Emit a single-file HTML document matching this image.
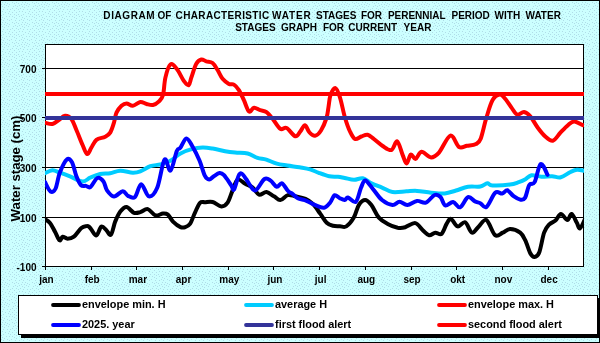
<!DOCTYPE html>
<html><head><meta charset="utf-8"><style>
html,body{margin:0;padding:0;background:#fff;}
body{width:600px;height:343px;overflow:hidden;}
svg{display:block;will-change:transform;}
</style></head><body>
<svg width="600" height="343" viewBox="0 0 600 343">
<defs>
<pattern id="dots" width="20" height="20" patternUnits="userSpaceOnUse"><rect width="20" height="20" fill="#CCFFFF"/><g fill="#B0DDE8"><rect x="0" y="8" width="1" height="1"/><rect x="1" y="4" width="1" height="1"/><rect x="1" y="15" width="1" height="1"/><rect x="1" y="19" width="1" height="1"/><rect x="2" y="2" width="1" height="1"/><rect x="2" y="6" width="1" height="1"/><rect x="2" y="11" width="1" height="1"/><rect x="2" y="17" width="1" height="1"/><rect x="3" y="0" width="1" height="1"/><rect x="3" y="9" width="1" height="1"/><rect x="3" y="14" width="1" height="1"/><rect x="4" y="4" width="1" height="1"/><rect x="4" y="7" width="1" height="1"/><rect x="4" y="18" width="1" height="1"/><rect x="5" y="2" width="1" height="1"/><rect x="5" y="12" width="1" height="1"/><rect x="6" y="5" width="1" height="1"/><rect x="6" y="16" width="1" height="1"/><rect x="7" y="3" width="1" height="1"/><rect x="7" y="9" width="1" height="1"/><rect x="7" y="19" width="1" height="1"/><rect x="8" y="6" width="1" height="1"/><rect x="8" y="13" width="1" height="1"/><rect x="9" y="0" width="1" height="1"/><rect x="9" y="4" width="1" height="1"/><rect x="9" y="11" width="1" height="1"/><rect x="9" y="16" width="1" height="1"/><rect x="10" y="9" width="1" height="1"/><rect x="10" y="14" width="1" height="1"/><rect x="11" y="19" width="1" height="1"/><rect x="12" y="2" width="1" height="1"/><rect x="12" y="8" width="1" height="1"/><rect x="12" y="12" width="1" height="1"/><rect x="12" y="16" width="1" height="1"/><rect x="13" y="6" width="1" height="1"/><rect x="14" y="3" width="1" height="1"/><rect x="14" y="10" width="1" height="1"/><rect x="14" y="14" width="1" height="1"/><rect x="14" y="17" width="1" height="1"/><rect x="15" y="0" width="1" height="1"/><rect x="15" y="5" width="1" height="1"/><rect x="16" y="2" width="1" height="1"/><rect x="16" y="8" width="1" height="1"/><rect x="16" y="12" width="1" height="1"/><rect x="16" y="15" width="1" height="1"/><rect x="16" y="18" width="1" height="1"/><rect x="17" y="6" width="1" height="1"/><rect x="18" y="3" width="1" height="1"/><rect x="18" y="9" width="1" height="1"/><rect x="18" y="14" width="1" height="1"/><rect x="19" y="0" width="1" height="1"/><rect x="19" y="5" width="1" height="1"/><rect x="19" y="11" width="1" height="1"/><rect x="19" y="16" width="1" height="1"/></g></pattern>
<clipPath id="plot"><rect x="45" y="44" width="539" height="223"/></clipPath>
</defs>
<rect x="0" y="0" width="600" height="343" fill="url(#dots)"/>
<rect x="0.5" y="0.5" width="599" height="342" fill="none" stroke="#000" stroke-width="1"/>
<text x="103.3" y="19.2" textLength="51.40" lengthAdjust="spacing" font-family='"Liberation Sans", sans-serif' font-weight="bold" font-size="10">DIAGRAM</text>
<text x="157.6" y="19.2" font-family='"Liberation Sans", sans-serif' font-weight="bold" font-size="10">OF</text>
<text x="175.6" y="19.2" textLength="93.52" lengthAdjust="spacing" font-family='"Liberation Sans", sans-serif' font-weight="bold" font-size="10">CHARACTERISTIC</text>
<text x="272.1" y="19.2" textLength="38.51" lengthAdjust="spacing" font-family='"Liberation Sans", sans-serif' font-weight="bold" font-size="10">WATER</text>
<text x="316.0" y="19.2" font-family='"Liberation Sans", sans-serif' font-weight="bold" font-size="10">STAGES</text>
<text x="360.9" y="19.2" font-family='"Liberation Sans", sans-serif' font-weight="bold" font-size="10">FOR</text>
<text x="387.9" y="19.2" font-family='"Liberation Sans", sans-serif' font-weight="bold" font-size="10">PERENNIAL</text>
<text x="451.5" y="19.2" font-family='"Liberation Sans", sans-serif' font-weight="bold" font-size="10">PERIOD</text>
<text x="494.6" y="19.2" font-family='"Liberation Sans", sans-serif' font-weight="bold" font-size="10">WITH</text>
<text x="525.5" y="19.2" font-family='"Liberation Sans", sans-serif' font-weight="bold" font-size="10">WATER</text>
<text x="235.2" y="31.2" font-family='"Liberation Sans", sans-serif' font-weight="bold" font-size="10">STAGES</text>
<text x="280.9" y="31.2" font-family='"Liberation Sans", sans-serif' font-weight="bold" font-size="10">GRAPH</text>
<text x="322.9" y="31.2" font-family='"Liberation Sans", sans-serif' font-weight="bold" font-size="10">FOR</text>
<text x="348.3" y="31.2" font-family='"Liberation Sans", sans-serif' font-weight="bold" font-size="10">CURRENT</text>
<text x="403.6" y="31.2" font-family='"Liberation Sans", sans-serif' font-weight="bold" font-size="10">YEAR</text>
<rect x="45.5" y="44.5" width="538" height="222" fill="#fff" stroke="#000" stroke-width="1"/>
<line x1="45" y1="68.5" x2="584" y2="68.5" stroke="#000" stroke-width="1"/>
<line x1="45" y1="117.5" x2="584" y2="117.5" stroke="#000" stroke-width="1"/>
<line x1="45" y1="167.5" x2="584" y2="167.5" stroke="#000" stroke-width="1"/>
<line x1="45" y1="217.5" x2="584" y2="217.5" stroke="#000" stroke-width="1"/>
<line x1="42" y1="68.5" x2="45.5" y2="68.5" stroke="#000" stroke-width="1"/>
<text x="36.5" y="72.7" font-family='"Liberation Sans", sans-serif' font-weight="bold" font-size="10" text-anchor="end">700</text>
<line x1="42" y1="117.5" x2="45.5" y2="117.5" stroke="#000" stroke-width="1"/>
<text x="36.5" y="121.7" font-family='"Liberation Sans", sans-serif' font-weight="bold" font-size="10" text-anchor="end">500</text>
<line x1="42" y1="167.5" x2="45.5" y2="167.5" stroke="#000" stroke-width="1"/>
<text x="36.5" y="171.7" font-family='"Liberation Sans", sans-serif' font-weight="bold" font-size="10" text-anchor="end">300</text>
<line x1="42" y1="217.5" x2="45.5" y2="217.5" stroke="#000" stroke-width="1"/>
<text x="36.5" y="221.7" font-family='"Liberation Sans", sans-serif' font-weight="bold" font-size="10" text-anchor="end">100</text>
<line x1="42" y1="266.5" x2="45.5" y2="266.5" stroke="#000" stroke-width="1"/>
<text x="36.5" y="270.7" font-family='"Liberation Sans", sans-serif' font-weight="bold" font-size="10" text-anchor="end">-100</text>
<line x1="45.5" y1="266" x2="45.5" y2="270" stroke="#000" stroke-width="1"/>
<text x="46.5" y="283" font-family='"Liberation Sans", sans-serif' font-weight="bold" font-size="10" text-anchor="middle">jan</text>
<line x1="91.5" y1="266" x2="91.5" y2="270" stroke="#000" stroke-width="1"/>
<text x="92.2" y="283" font-family='"Liberation Sans", sans-serif' font-weight="bold" font-size="10" text-anchor="middle">feb</text>
<line x1="136.5" y1="266" x2="136.5" y2="270" stroke="#000" stroke-width="1"/>
<text x="137.9" y="283" font-family='"Liberation Sans", sans-serif' font-weight="bold" font-size="10" text-anchor="middle">mar</text>
<line x1="182.5" y1="266" x2="182.5" y2="270" stroke="#000" stroke-width="1"/>
<text x="183.6" y="283" font-family='"Liberation Sans", sans-serif' font-weight="bold" font-size="10" text-anchor="middle">apr</text>
<line x1="228.5" y1="266" x2="228.5" y2="270" stroke="#000" stroke-width="1"/>
<text x="229.3" y="283" font-family='"Liberation Sans", sans-serif' font-weight="bold" font-size="10" text-anchor="middle">may</text>
<line x1="273.5" y1="266" x2="273.5" y2="270" stroke="#000" stroke-width="1"/>
<text x="274.9" y="283" font-family='"Liberation Sans", sans-serif' font-weight="bold" font-size="10" text-anchor="middle">jun</text>
<line x1="319.5" y1="266" x2="319.5" y2="270" stroke="#000" stroke-width="1"/>
<text x="320.6" y="283" font-family='"Liberation Sans", sans-serif' font-weight="bold" font-size="10" text-anchor="middle">jul</text>
<line x1="365.5" y1="266" x2="365.5" y2="270" stroke="#000" stroke-width="1"/>
<text x="366.3" y="283" font-family='"Liberation Sans", sans-serif' font-weight="bold" font-size="10" text-anchor="middle">aug</text>
<line x1="411.5" y1="266" x2="411.5" y2="270" stroke="#000" stroke-width="1"/>
<text x="412.0" y="283" font-family='"Liberation Sans", sans-serif' font-weight="bold" font-size="10" text-anchor="middle">sep</text>
<line x1="456.5" y1="266" x2="456.5" y2="270" stroke="#000" stroke-width="1"/>
<text x="457.7" y="283" font-family='"Liberation Sans", sans-serif' font-weight="bold" font-size="10" text-anchor="middle">okt</text>
<line x1="502.5" y1="266" x2="502.5" y2="270" stroke="#000" stroke-width="1"/>
<text x="503.4" y="283" font-family='"Liberation Sans", sans-serif' font-weight="bold" font-size="10" text-anchor="middle">nov</text>
<line x1="548.5" y1="266" x2="548.5" y2="270" stroke="#000" stroke-width="1"/>
<text x="549.1" y="283" font-family='"Liberation Sans", sans-serif' font-weight="bold" font-size="10" text-anchor="middle">dec</text>
<text transform="translate(20 168.5) rotate(-90)" font-family='"Liberation Sans", sans-serif' font-weight="bold" font-size="13.2" text-anchor="middle">Water stage (cm)</text>
<g clip-path="url(#plot)" fill="none" stroke-linecap="round" stroke-linejoin="round">
<path d="M45.0 219.1C45.8 219.7 48.3 220.8 50.0 222.9C51.7 225.0 53.4 228.8 55.0 231.7C56.6 234.6 58.3 239.6 59.6 240.4C60.9 241.2 61.3 237.0 62.6 236.7C63.9 236.4 65.7 238.7 67.6 238.7C69.5 238.7 71.6 238.5 73.9 236.7C76.2 234.9 79.3 229.7 81.4 227.9C83.5 226.1 85.2 226.3 86.4 226.1C87.7 225.9 88.1 226.0 88.9 226.6C89.7 227.2 90.2 228.1 91.4 229.6C92.7 231.1 94.7 235.9 96.4 235.4C98.1 234.9 99.7 227.4 101.4 226.6C103.1 225.8 104.9 229.1 106.5 230.4C108.1 231.8 109.5 236.2 111.0 234.7C112.5 233.2 113.7 225.4 115.2 221.6C116.8 217.8 118.4 214.0 120.3 211.6C122.2 209.2 124.2 206.8 126.5 207.0C128.8 207.2 131.7 212.0 134.0 212.8C136.3 213.7 138.0 212.7 140.3 212.1C142.6 211.5 145.3 208.5 147.8 209.1C150.3 209.7 152.9 214.7 155.4 215.4C157.9 216.2 160.8 213.7 162.9 213.6C165.0 213.5 166.2 213.3 167.9 214.6C169.6 215.9 170.9 219.5 173.0 221.6C175.1 223.7 178.5 226.2 180.5 227.1C182.5 228.0 183.4 227.7 185.0 227.2C186.6 226.7 188.3 226.3 190.0 223.9C191.7 221.5 193.3 216.1 195.0 212.6C196.7 209.1 198.3 204.5 200.0 202.8C201.7 201.1 202.9 202.3 205.0 202.2C207.1 202.1 209.9 201.3 212.6 202.0C215.3 202.7 218.9 206.3 221.4 206.4C223.9 206.5 225.7 205.3 227.6 202.6C229.5 199.9 231.0 193.9 232.7 190.1C234.4 186.2 235.6 180.6 237.7 179.5C239.8 178.4 242.7 182.5 245.2 183.8C247.7 185.2 250.4 185.8 252.7 187.6C255.0 189.4 256.7 193.8 259.0 194.6C261.3 195.3 264.0 191.8 266.5 192.1C269.0 192.4 271.7 195.0 274.0 196.3C276.3 197.6 278.0 200.3 280.3 200.1C282.6 199.9 285.3 195.7 287.8 195.1C290.3 194.5 292.5 195.7 295.4 196.3C298.3 196.9 302.5 197.5 305.4 198.8C308.3 200.1 310.4 201.4 312.9 203.9C315.4 206.4 318.1 210.8 320.4 213.9C322.7 217.0 324.6 220.7 326.7 222.7C328.8 224.7 330.8 225.2 333.0 225.8C335.2 226.4 337.8 226.1 340.0 226.2C342.2 226.3 344.0 227.8 346.3 226.4C348.6 225.0 351.7 221.2 353.8 217.6C355.9 214.0 356.9 208.0 358.8 205.1C360.7 202.2 363.0 200.1 365.1 200.1C367.2 200.1 369.1 202.2 371.4 205.1C373.7 208.0 376.2 214.5 378.9 217.6C381.6 220.7 384.6 222.2 387.7 223.9C390.8 225.6 394.8 227.1 397.7 227.7C400.6 228.2 402.3 228.0 405.2 227.2C408.1 226.4 412.4 222.6 415.3 223.1C418.2 223.6 420.5 228.2 422.8 230.2C425.1 232.2 427.0 234.8 429.1 235.2C431.2 235.6 433.2 232.9 435.3 232.7C437.4 232.5 439.7 235.4 441.6 233.9C443.5 232.4 445.1 226.4 446.6 223.9C448.2 221.4 449.0 218.5 450.9 218.9C452.8 219.3 455.3 225.8 457.7 226.4C460.1 227.0 462.8 221.2 465.2 222.3C467.6 223.4 469.7 232.0 472.0 232.7C474.3 233.4 476.4 228.5 478.8 226.4C481.2 224.3 483.7 218.6 486.4 220.1C489.1 221.6 492.4 233.1 495.1 235.2C497.8 237.3 500.2 233.8 502.7 232.7C505.2 231.6 507.3 228.9 510.2 228.9C513.1 228.9 517.7 230.8 520.2 232.7C522.7 234.6 523.5 236.8 525.2 240.2C526.9 243.6 528.8 250.5 530.3 253.3C531.8 256.1 533.0 257.1 534.5 257.0C536.0 256.9 537.6 256.6 539.2 252.5C540.8 248.4 542.5 237.3 544.1 232.7C545.8 228.0 547.2 226.6 549.1 224.6C551.0 222.6 553.4 222.4 555.4 220.6C557.4 218.8 558.9 214.0 560.9 213.9C562.9 213.8 565.6 220.1 567.4 220.1C569.2 220.1 570.0 213.5 571.6 213.9C573.2 214.3 575.3 220.2 576.7 222.6C578.1 225.0 578.6 228.9 580.0 228.3C581.4 227.7 584.2 220.6 585.0 219.0" stroke="#000" stroke-width="4.0"/>
<path d="M45.0 173.2C46.2 172.7 50.0 170.3 52.5 170.2C55.0 170.1 57.1 171.7 60.0 172.7C62.9 173.7 66.2 174.9 70.0 176.4C73.8 177.9 79.2 181.3 82.6 181.5C86.0 181.7 87.3 178.9 90.2 177.7C93.1 176.4 96.9 174.8 100.2 174.0C103.5 173.2 106.9 173.8 110.2 173.2C113.5 172.6 116.5 170.8 120.3 170.7C124.1 170.6 129.5 172.6 132.8 172.7C136.1 172.8 137.4 172.5 140.3 171.4C143.2 170.3 147.1 167.4 150.4 166.2C153.8 165.0 157.1 165.3 160.4 164.4C163.7 163.5 167.1 162.6 170.4 160.8C173.8 159.0 176.8 155.4 180.5 153.4C184.2 151.4 188.8 149.9 192.5 148.9C196.2 147.9 199.2 147.7 202.6 147.6C205.9 147.5 208.8 148.0 212.6 148.6C216.3 149.2 221.3 150.5 225.1 151.2C228.9 151.9 231.4 152.2 235.2 152.6C239.0 153.0 244.0 152.6 247.7 153.5C251.4 154.4 254.4 156.9 257.5 157.9C260.6 158.9 263.1 158.6 266.3 159.6C269.5 160.6 273.3 162.7 276.8 163.7C280.3 164.7 283.5 164.9 287.3 165.5C291.1 166.1 295.7 166.7 299.5 167.3C303.3 168.0 306.8 168.5 310.0 169.4C313.2 170.3 315.6 171.7 318.8 172.8C322.0 174.0 326.1 175.6 329.3 176.3C332.5 177.0 335.4 176.5 338.0 176.8C340.6 177.1 342.0 177.5 344.7 178.0C347.4 178.5 351.0 179.8 354.0 179.8C357.0 179.9 359.9 177.7 362.8 178.3C365.7 178.9 368.3 181.9 371.5 183.4C374.7 184.9 378.5 186.2 382.0 187.6C385.5 189.0 388.4 191.4 392.5 192.0C396.6 192.6 402.4 191.5 406.5 191.3C410.6 191.1 412.9 190.7 417.0 190.9C421.1 191.1 426.4 192.3 431.0 192.7C435.6 193.1 440.5 193.8 444.7 193.4C448.9 193.0 452.1 191.6 456.0 190.5C459.9 189.4 463.9 187.5 468.0 186.8C472.1 186.1 477.1 187.1 480.3 186.5C483.5 185.9 485.3 183.5 487.3 183.3C489.3 183.1 488.7 185.3 492.5 185.5C496.3 185.7 505.6 185.2 510.0 184.6C514.4 184.0 516.3 183.0 518.8 182.2C521.3 181.4 522.9 180.8 525.0 179.6C527.1 178.4 528.8 175.7 531.5 175.2C534.2 174.7 537.9 176.5 541.3 176.7C544.7 176.9 548.8 176.1 552.0 176.2C555.2 176.3 557.7 178.0 560.8 177.3C563.9 176.6 567.8 173.2 570.5 172.0C573.2 170.8 574.8 170.0 577.0 169.8C579.2 169.6 582.8 170.6 584.0 170.8" stroke="#00CCFF" stroke-width="4.0"/>
<path d="M45.0 122.7C46.2 122.9 50.2 124.5 52.5 124.0C54.8 123.5 56.7 121.4 58.8 120.0C60.9 118.6 62.9 115.9 65.0 115.7C67.1 115.5 69.5 116.6 71.4 119.0C73.3 121.4 74.5 125.7 76.4 130.0C78.3 134.3 80.8 141.0 82.6 145.0C84.4 149.0 85.7 153.6 87.2 154.0C88.7 154.4 89.9 149.9 91.4 147.5C92.9 145.1 94.1 141.6 96.4 139.8C98.7 138.0 102.9 138.0 105.2 136.8C107.5 135.6 108.7 135.0 110.2 132.6C111.7 130.2 113.0 125.8 114.0 122.5C115.0 119.2 115.2 115.5 116.5 112.7C117.8 109.9 119.8 107.2 121.5 105.7C123.2 104.2 124.6 103.4 126.5 103.4C128.4 103.4 130.5 105.9 132.8 105.7C135.1 105.5 138.0 102.3 140.3 102.0C142.6 101.7 144.5 103.5 146.6 104.0C148.7 104.5 150.8 105.4 152.9 105.0C155.0 104.6 157.3 103.1 159.0 101.4C160.7 99.7 161.9 99.0 163.0 95.0C164.1 91.0 164.2 82.7 165.4 77.6C166.6 72.5 168.5 66.0 170.4 64.5C172.3 63.0 174.4 66.0 176.7 68.8C179.0 71.6 182.2 78.7 184.2 81.4C186.2 84.1 187.6 85.7 188.8 85.1C190.0 84.5 190.1 81.1 191.3 77.6C192.6 74.0 194.6 66.8 196.3 63.8C198.0 60.8 199.6 59.9 201.3 59.5C203.0 59.1 204.4 60.7 206.3 61.3C208.2 61.9 210.7 61.5 212.6 63.0C214.5 64.5 215.9 67.4 217.6 70.0C219.3 72.6 220.7 76.5 222.6 78.8C224.5 81.1 227.0 82.9 228.9 83.9C230.8 84.9 232.2 83.6 233.9 84.6C235.6 85.6 237.2 87.5 238.9 90.1C240.6 92.7 242.2 96.6 243.9 100.2C245.6 103.8 247.3 110.2 249.0 111.5C250.7 112.8 252.1 107.9 254.0 107.7C255.9 107.5 258.1 109.5 260.2 110.2C262.3 111.0 264.4 110.7 266.5 112.2C268.6 113.7 270.5 116.2 272.8 119.0C275.1 121.8 278.0 127.3 280.3 128.8C282.6 130.3 284.1 126.8 286.6 128.0C289.1 129.2 293.1 135.8 295.4 136.3C297.7 136.9 298.8 133.2 300.4 131.3C302.0 129.5 303.5 125.0 305.0 125.2C306.5 125.4 307.8 130.7 309.5 132.5C311.2 134.3 313.1 136.1 315.0 135.8C316.9 135.5 319.1 133.5 321.0 130.5C322.9 127.5 325.2 121.9 326.5 118.0C327.8 114.1 327.8 110.8 328.5 107.0C329.2 103.2 329.3 98.2 330.5 95.1C331.7 91.9 333.9 87.7 335.5 88.1C337.1 88.5 338.4 92.7 340.0 97.6C341.6 102.5 343.3 112.0 345.0 117.7C346.7 123.4 348.3 128.0 350.0 131.5C351.7 135.1 353.1 138.2 355.0 139.0C356.9 139.8 359.3 137.2 361.4 136.5C363.5 135.8 365.5 134.4 367.6 134.8C369.7 135.2 371.4 137.1 373.9 139.0C376.4 140.9 379.8 144.2 382.7 146.0C385.6 147.8 389.0 150.8 391.4 150.0C393.8 149.2 395.3 140.6 397.2 141.4C399.1 142.2 401.1 151.4 402.7 155.1C404.3 158.8 405.2 163.5 406.6 163.4C408.0 163.3 409.3 155.3 410.8 154.6C412.3 153.8 413.8 159.4 415.6 158.9C417.4 158.4 418.9 152.1 421.5 151.8C424.1 151.6 428.1 157.3 431.0 157.4C433.9 157.5 435.8 156.2 439.0 152.6C442.2 149.0 447.1 136.5 450.4 135.6C453.7 134.7 456.2 145.3 459.0 147.0C461.8 148.7 464.2 146.3 467.0 145.8C469.8 145.3 473.7 145.2 476.0 144.0C478.3 142.8 479.1 142.9 480.8 138.5C482.5 134.1 484.4 124.1 486.4 117.7C488.4 111.3 490.4 103.9 492.6 100.1C494.8 96.2 497.7 94.8 499.8 94.6C501.9 94.4 503.2 96.6 505.2 98.8C507.1 101.0 509.5 105.0 511.5 107.6C513.5 110.2 515.1 113.8 517.2 114.6C519.3 115.3 521.8 111.8 524.0 112.1C526.2 112.4 528.0 113.8 530.3 116.4C532.6 119.0 535.3 124.4 537.8 127.7C540.3 131.1 542.8 134.3 545.3 136.5C547.8 138.7 550.3 141.3 552.8 140.7C555.3 140.1 557.9 135.3 560.4 132.7C562.9 130.1 565.6 127.1 567.9 125.2C570.2 123.3 571.7 121.4 574.2 121.4C576.7 121.4 581.5 124.6 583.0 125.2" stroke="#FF0000" stroke-width="4.0"/>
<path d="M45.0 182.0C45.9 183.6 48.7 190.4 50.5 191.5C52.3 192.6 54.1 191.6 55.6 188.5C57.1 185.4 57.9 177.6 59.8 172.8C61.7 168.0 64.8 161.3 66.8 159.6C68.8 157.8 70.4 159.5 72.0 162.3C73.6 165.1 74.9 172.5 76.4 176.3C77.9 180.1 79.2 183.4 80.8 185.0C82.4 186.6 84.4 185.6 86.0 185.9C87.6 186.2 88.5 188.4 90.4 187.1C92.3 185.8 95.2 178.9 97.4 178.0C99.6 177.1 101.9 179.4 103.5 181.5C105.1 183.6 105.2 187.8 107.0 190.3C108.8 192.8 111.4 196.2 114.0 196.4C116.6 196.6 120.5 191.3 122.8 191.2C125.1 191.1 126.0 194.9 128.0 195.9C130.0 196.9 132.8 198.9 135.0 197.0C137.2 195.1 138.9 184.3 141.2 184.2C143.5 184.1 146.2 195.7 148.9 196.3C151.6 196.9 154.6 193.9 157.2 187.8C159.8 181.7 162.3 162.5 164.5 159.6C166.7 156.7 168.4 171.9 170.5 170.5C172.6 169.1 175.2 154.8 176.8 151.0C178.4 147.2 178.7 149.9 180.3 147.8C181.9 145.7 184.4 138.7 186.4 138.5C188.4 138.3 190.3 142.8 192.5 146.5C194.7 150.2 197.4 155.6 199.5 160.5C201.6 165.4 203.2 172.5 204.8 175.7C206.4 178.9 207.8 179.5 209.2 179.6C210.6 179.7 211.8 177.6 213.5 176.5C215.2 175.4 217.8 173.2 219.6 173.0C221.3 172.8 222.1 173.2 224.0 175.2C225.9 177.2 229.3 182.6 231.0 185.0C232.7 187.4 232.8 191.1 234.0 189.6C235.2 188.1 237.2 178.7 238.5 176.0C239.8 173.3 240.2 173.0 241.5 173.5C242.8 174.0 244.6 176.9 246.1 179.0C247.6 181.1 248.9 184.1 250.5 186.0C252.1 187.9 253.5 191.5 255.8 190.3C258.1 189.1 262.0 180.6 264.5 179.0C267.0 177.4 268.6 179.3 270.6 180.6C272.7 181.9 274.9 186.4 276.8 186.8C278.7 187.2 280.1 182.6 282.0 183.3C283.9 184.0 286.4 189.4 288.2 191.2C289.9 192.9 290.9 192.6 292.5 193.8C294.1 195.0 295.5 197.0 297.8 198.2C300.1 199.4 303.6 199.6 306.5 200.8C309.4 202.0 312.4 204.0 315.3 205.2C318.2 206.4 321.5 208.2 324.0 207.8C326.5 207.4 328.4 204.6 330.2 202.5C332.0 200.4 333.0 195.9 334.6 195.2C336.2 194.5 338.1 197.4 339.8 198.2C341.5 199.0 343.3 200.0 344.7 199.9C346.1 199.8 346.1 197.3 348.0 197.6C349.9 197.9 353.6 203.4 355.8 201.8C358.0 200.2 359.4 191.4 361.0 187.8C362.6 184.2 363.3 180.2 365.4 180.5C367.4 180.8 370.5 186.2 373.3 189.5C376.1 192.8 378.8 197.4 382.0 200.0C385.2 202.6 389.6 204.6 392.5 204.9C395.4 205.2 397.0 201.8 399.5 201.8C402.0 201.8 404.5 205.1 407.4 204.9C410.3 204.8 413.9 201.3 417.0 200.9C420.1 200.5 422.9 203.7 425.8 202.7C428.7 201.7 432.2 195.9 434.6 195.0C437.1 194.1 438.7 195.2 440.5 197.0C442.3 198.8 443.2 204.7 445.3 205.5C447.4 206.3 450.6 201.6 453.1 201.9C455.6 202.2 457.6 208.1 460.1 207.3C462.6 206.5 465.5 198.2 468.0 197.2C470.5 196.2 472.9 200.4 475.0 201.4C477.1 202.4 478.4 202.3 480.3 203.2C482.2 204.1 483.9 208.7 486.4 207.0C488.9 205.3 492.6 195.1 495.2 192.8C497.8 190.6 500.2 193.9 502.2 193.5C504.2 193.1 505.5 189.9 507.4 190.3C509.3 190.8 511.4 194.6 513.6 196.2C515.8 197.8 518.7 199.4 520.6 199.7C522.5 200.0 523.5 200.3 525.0 197.9C526.5 195.5 527.7 187.6 529.3 185.0C530.9 182.4 532.7 185.6 534.6 182.1C536.5 178.6 538.6 165.2 540.7 164.0C542.9 162.8 546.4 173.0 547.5 174.8" stroke="#0000FF" stroke-width="4.0"/>
<line x1="45" y1="118" x2="584" y2="118" stroke="#333399" stroke-width="4.0"/>
<line x1="45" y1="94" x2="584" y2="94" stroke="#FF0000" stroke-width="4.0"/>
</g>
<rect x="21" y="298" width="580" height="40" fill="#000"/>
<rect x="18.5" y="295.5" width="579" height="39" fill="#fff" stroke="#000" stroke-width="1"/>
<line x1="53" y1="305" x2="79" y2="305" stroke="#000" stroke-width="3.8" stroke-linecap="round"/>
<text x="82" y="308" font-family='"Liberation Sans", sans-serif' font-weight="bold" font-size="10.9">envelope min. H</text>
<line x1="246" y1="305" x2="272" y2="305" stroke="#00CCFF" stroke-width="3.8" stroke-linecap="round"/>
<text x="275" y="308" font-family='"Liberation Sans", sans-serif' font-weight="bold" font-size="10.9">average H</text>
<line x1="439" y1="305" x2="465" y2="305" stroke="#FF0000" stroke-width="3.8" stroke-linecap="round"/>
<text x="468" y="308" font-family='"Liberation Sans", sans-serif' font-weight="bold" font-size="10.9">envelope max. H</text>
<line x1="53" y1="325" x2="79" y2="325" stroke="#0000FF" stroke-width="3.8" stroke-linecap="round"/>
<text x="82" y="328" font-family='"Liberation Sans", sans-serif' font-weight="bold" font-size="10.9">2025. year</text>
<line x1="246" y1="325" x2="272" y2="325" stroke="#333399" stroke-width="3.8" stroke-linecap="round"/>
<text x="275" y="328" font-family='"Liberation Sans", sans-serif' font-weight="bold" font-size="10.9">first flood alert</text>
<line x1="439" y1="325" x2="465" y2="325" stroke="#FF0000" stroke-width="3.8" stroke-linecap="round"/>
<text x="468" y="328" font-family='"Liberation Sans", sans-serif' font-weight="bold" font-size="10.9">second flood alert</text>
</svg>
</body></html>
